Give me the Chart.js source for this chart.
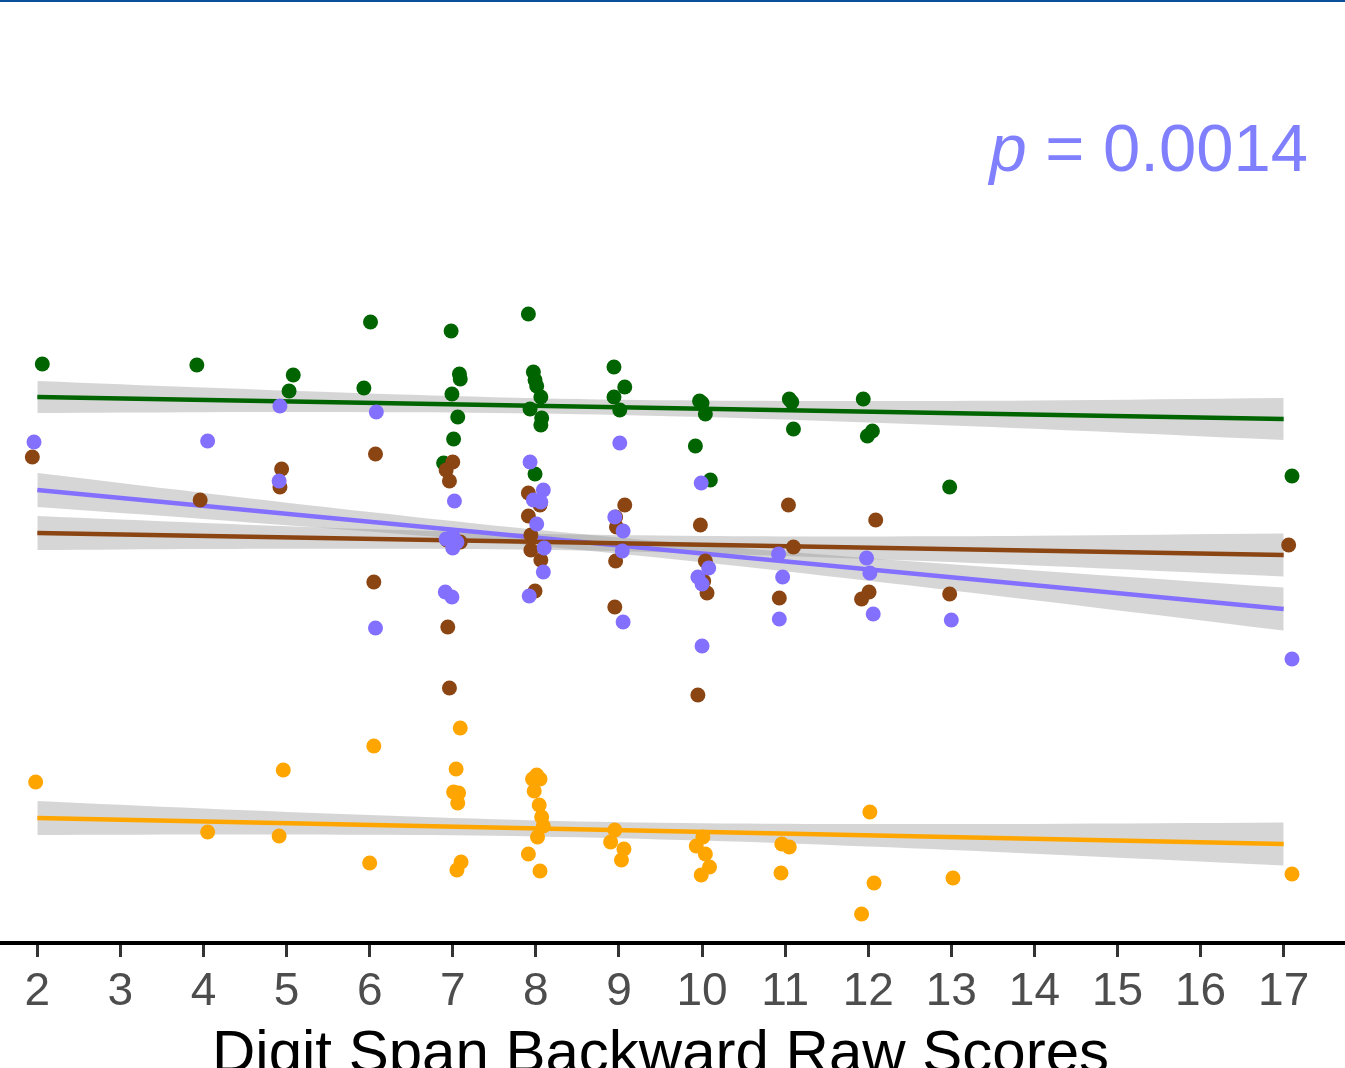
<!DOCTYPE html>
<html><head><meta charset="utf-8">
<script src="https://cdn.jsdelivr.net/npm/chart.js@4.4.1/dist/chart.umd.min.js"></script>
<style>html,body{margin:0;padding:0;background:#fff;overflow:hidden;width:1345px;height:1068px;position:relative;}
canvas{display:block;position:absolute;left:-25px;top:0;}</style>
</head><body>
<canvas id="c" width="1371" height="1110"></canvas>
<script>
// ---- data (x = Digit Span Backward raw score with jitter, y = outcome value) ----
const xTicks = [2,3,4,5,6,7,8,9,10,11,12,13,14,15,16,17];
const xTitle = 'Digit Span Backward Raw Scores';
const pText = ['p', ' = 0.0014'];

const greenPts = [[2.06,57.9],[3.92,57.8],[5.08,56.8],[5.03,55.2],[6.01,62.1],[5.93,55.5],
 [6.98,61.2],[7.08,56.9],[7.09,56.4],[6.99,54.9],[7.06,52.6],[7.01,50.4],[6.89,48.0],
 [7.91,62.9],[7.97,57.1],[7.99,56.3],[8.01,55.7],[8.06,54.6],[7.93,53.4],[8.07,52.5],[8.06,51.8],[7.99,46.9],
 [8.94,57.6],[9.07,55.6],[8.94,54.6],[9.01,53.3],
 [9.97,54.2],[10.0,54.0],[10.04,52.9],[9.92,49.7],[10.10,46.3],
 [11.05,54.4],[11.08,54.1],[11.10,51.4],
 [11.94,54.4],[12.05,51.2],[11.99,50.7],[12.98,45.6],[17.10,46.7]];
const purplePts = [[1.96,50.1],[4.05,50.2],[4.92,53.7],[4.91,46.2],[6.08,53.1],[6.07,31.5],
 [7.02,44.2],[6.92,40.4],[7.00,40.7],[7.05,40.1],[7.00,39.5],[6.91,35.1],[6.99,34.6],
 [7.93,48.1],[8.09,45.3],[7.97,44.3],[8.06,44.1],[8.01,41.9],[8.10,39.5],[8.09,37.1],[7.92,34.7],
 [9.01,50.0],[8.95,42.6],[9.05,41.2],[9.04,39.2],[9.05,32.1],
 [9.99,46.0],[9.95,36.6],[10.08,37.5],[10.0,35.9],[10.0,29.7],
 [10.92,38.9],[10.97,36.6],[10.93,32.4],
 [11.98,38.5],[12.02,37.0],[12.06,32.9],[13.0,32.3],[17.10,28.4]];
const brownPts = [[1.94,48.6],[3.96,44.3],[4.94,47.4],[4.92,45.6],[6.07,48.9],[6.05,36.1],
 [7.00,48.1],[6.92,47.3],[6.96,46.2],[6.93,40.3],[7.09,40.1],[6.94,31.6],[6.96,25.5],
 [7.91,45.0],[8.05,43.8],[7.91,42.7],[7.94,40.8],[7.94,39.3],[8.06,38.3],[7.99,35.2],
 [9.07,43.8],[8.96,42.6],[8.97,41.6],[8.96,38.2],[8.95,33.6],
 [9.98,41.8],[10.04,38.2],[10.02,36.2],[10.06,35.0],[9.95,24.8],
 [11.04,43.8],[11.10,39.6],[10.93,34.5],
 [12.09,42.3],[12.01,35.1],[11.92,34.4],[12.98,34.9],[17.06,39.8]];
const orangePts = [[1.98,16.1],[4.05,11.1],[4.96,17.3],[4.91,10.7],[6.05,19.7],[6.00,8.0],
 [7.09,21.5],[7.04,17.4],[7.01,15.1],[7.07,15.0],[7.06,14.0],[7.10,8.1],[7.05,7.3],
 [7.96,16.4],[8.05,16.4],[8.01,16.8],[7.98,15.2],[8.04,13.8],[8.07,12.6],[8.09,11.7],[8.02,10.6],[7.91,8.9],[8.05,7.2],
 [8.95,11.3],[8.90,10.1],[9.06,9.4],[9.03,8.3],
 [10.01,10.6],[9.93,9.7],[10.04,8.9],[10.09,7.6],[9.99,6.8],
 [10.96,9.9],[11.05,9.6],[10.95,7.0],
 [12.02,13.1],[12.07,6.0],[11.92,2.9],[13.02,6.5],[17.10,6.9]];

// fitted lines (ends) and confidence bands
const fitX = [2, 17];
const greenFit = [54.6, 52.4];
const purpleFit = [45.3, 33.4];
const brownFit = [41.0, 38.8];
const orangeFit = [12.5, 9.9];

const bandX = [2, 4, 6, 8, 10, 12, 14, 17];
const greenUpper  = [56.2, 55.54, 54.94, 54.48, 54.25, 54.20, 54.25, 54.5];
const greenLower  = [53.0, 53.08, 53.08, 52.96, 52.61, 52.06, 51.43, 50.3];
const purpleUpper = [47.0, 45.01, 43.10, 41.33, 39.82, 38.49, 37.26, 35.55];
const purpleLower = [43.6, 42.41, 41.14, 39.73, 38.08, 36.23, 34.28, 31.25];
const brownUpper  = [42.7, 42.01, 41.39, 40.92, 40.70, 40.66, 40.73, 40.95];
const brownLower  = [39.3, 39.41, 39.43, 39.32, 38.96, 38.40, 37.75, 36.65];
const orangeUpper = [14.2, 13.45, 12.79, 12.26, 11.98, 11.90, 11.91, 12.05];
const orangeLower = [10.8, 10.85, 10.83, 10.66, 10.24, 9.64, 8.93, 7.75];

// ---- styles ----
const COL = {green:'#006400', purple:'#8470ff', brown:'#8b4513', orange:'#ffa500'};
const BAND = 'rgba(153,153,153,0.4)';
const FONT = '"Liberation Sans", Arial, Helvetica, sans-serif';

const toXY = pts => pts.map(p => ({x:p[0], y:p[1]}));
const zipXY = (xs, ys) => xs.map((x,i) => ({x, y:ys[i]}));

function pointsDS(pts, c){
  return {type:'scatter', data:toXY(pts), backgroundColor:c, borderWidth:0, pointRadius:7.5, pointHoverRadius:7.5, order:0};
}
function fitDS(ys, c){
  return {type:'line', data:zipXY(fitX, ys), borderColor:c, borderWidth:4.5, pointRadius:0, fill:false, tension:0, order:1};
}
function bandDS(ys, fill){
  return {type:'line', data:zipXY(bandX, ys), borderWidth:0, borderColor:'rgba(0,0,0,0)', backgroundColor:BAND,
          pointRadius:0, fill:fill, tension:0.35, order:2};
}

const datasets = [
  pointsDS(purplePts, COL.purple),
  pointsDS(brownPts, COL.brown),
  pointsDS(greenPts, COL.green),
  pointsDS(orangePts, COL.orange),
  fitDS(greenFit, COL.green),
  fitDS(brownFit, COL.brown),
  fitDS(purpleFit, COL.purple),
  fitDS(orangeFit, COL.orange),
  bandDS(greenUpper, '+1'), bandDS(greenLower, false),
  bandDS(brownUpper, '+1'), bandDS(brownLower, false),
  bandDS(purpleUpper, '+1'), bandDS(purpleLower, false),
  bandDS(orangeUpper, '+1'), bandDS(orangeLower, false)
];

const decor = {
  id:'decor',
  afterDraw(chart){
    const ctx = chart.ctx;
    ctx.save();
    ctx.fillStyle = '#0a519a';
    ctx.fillRect(0, 0, chart.width, 2);
    const size = 67;
    ctx.fillStyle = '#8080ff';
    ctx.textBaseline = 'alphabetic';
    ctx.textAlign = 'left';
    ctx.font = `italic ${size}px ${FONT}`;
    const w1 = ctx.measureText(pText[0]).width;
    ctx.font = `${size}px ${FONT}`;
    const w2 = ctx.measureText(pText[1]).width;
    const right = 1333, base = 171;
    const x0 = right - w1 - w2;
    ctx.font = `italic ${size}px ${FONT}`;
    ctx.fillText(pText[0], x0, base);
    ctx.font = `${size}px ${FONT}`;
    ctx.fillText(pText[1], x0 + w1, base);
    ctx.restore();
  }
};

new Chart(document.getElementById('c'), {
  type:'scatter',
  data:{datasets},
  plugins:[decor],
  options:{
    responsive:false,
    animation:false,
    events:[],
    layout:{padding:0, autoPadding:false},
    plugins:{legend:{display:false}, tooltip:{enabled:false}, title:{display:false}},
    scales:{
      x:{
        type:'linear', min:1.25, max:17.75,
        afterBuildTicks(s){ s.ticks = xTicks.map(v => ({value:v})); },
        afterFit(s){ s.height = 167; s.paddingLeft = 0; s.paddingRight = 0; },
        border:{display:true, color:'#000000', width:4},
        grid:{display:true, drawOnChartArea:false, drawTicks:true, tickLength:14, tickColor:'#333333', tickWidth:3},
        ticks:{autoSkip:false, maxRotation:0, padding:8, color:'#4d4d4d', font:{family:FONT, size:46},
               callback:v => String(v)},
        title:{display:true, text:xTitle, color:'#000000', font:{family:FONT, size:60}, padding:{top:0, bottom:19}}
      },
      y:{type:'linear', min:0, max:94.3, display:false}
    }
  }
});
</script>
</body></html>
